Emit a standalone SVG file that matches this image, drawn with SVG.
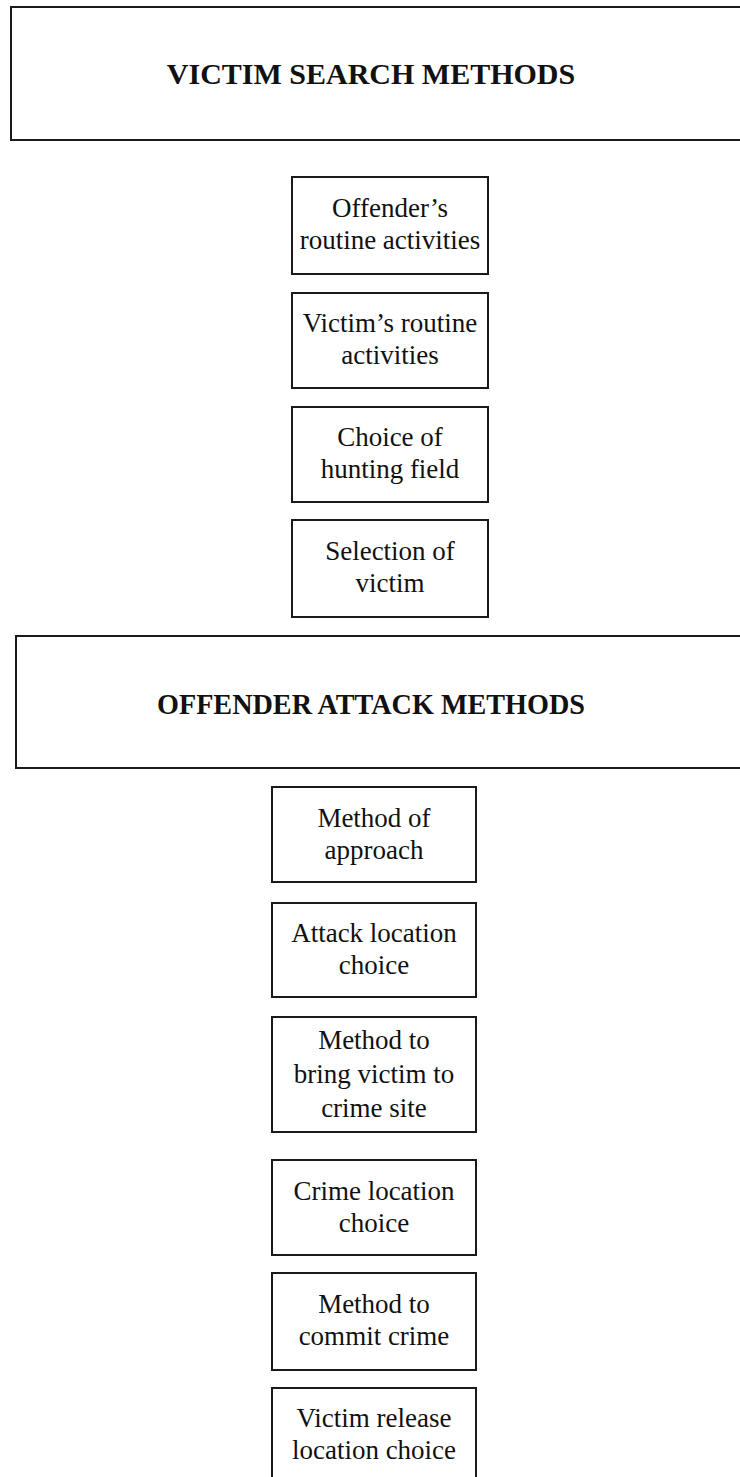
<svg xmlns="http://www.w3.org/2000/svg" width="740" height="1477" viewBox="0 0 740 1477">
<style>
.box{fill:#fff;stroke:#1a1a1a;stroke-width:2}
.hd{font-family:"Liberation Serif","Times New Roman",serif;font-weight:bold;font-size:30px;fill:#111;text-anchor:middle}
.t{font-family:"Liberation Serif","Times New Roman",serif;font-size:27px;fill:#111;text-anchor:middle}
</style>
<rect width="740" height="1477" fill="#fff"/>
<g id="victim-search-methods">
<rect class="box" x="11" y="7" width="740" height="133"/>
<text class="hd" x="371" y="84">VICTIM SEARCH METHODS</text>
</g>
<g id="offenders-routine">
<rect class="box" x="292" y="177" width="196" height="97"/>
<text class="t" x="390" y="217">Offender’s</text>
<text class="t" x="390" y="249">routine activities</text>
</g>
<g id="victims-routine">
<rect class="box" x="292" y="293" width="196" height="95"/>
<text class="t" x="390" y="332">Victim’s routine</text>
<text class="t" x="390" y="364">activities</text>
</g>
<g id="hunting-field">
<rect class="box" x="292" y="407" width="196" height="95"/>
<text class="t" x="390" y="446">Choice of</text>
<text class="t" x="390" y="478">hunting field</text>
</g>
<g id="selection-victim">
<rect class="box" x="292" y="520" width="196" height="97"/>
<text class="t" x="390" y="560">Selection of</text>
<text class="t" x="390" y="592">victim</text>
</g>
<g id="offender-attack-methods">
<rect class="box" x="16" y="636" width="740" height="132"/>
<text class="hd" x="371" y="714" textLength="428" lengthAdjust="spacingAndGlyphs">OFFENDER ATTACK METHODS</text>
</g>
<g id="method-approach">
<rect class="box" x="272" y="787" width="204" height="95"/>
<text class="t" x="374" y="827">Method of</text>
<text class="t" x="374" y="859">approach</text>
</g>
<g id="attack-location">
<rect class="box" x="272" y="903" width="204" height="94"/>
<text class="t" x="374" y="942">Attack location</text>
<text class="t" x="374" y="974">choice</text>
</g>
<g id="bring-victim">
<rect class="box" x="272" y="1017" width="204" height="115"/>
<text class="t" x="374" y="1049">Method to</text>
<text class="t" x="374" y="1083">bring victim to</text>
<text class="t" x="374" y="1117">crime site</text>
</g>
<g id="crime-location">
<rect class="box" x="272" y="1160" width="204" height="95"/>
<text class="t" x="374" y="1200">Crime location</text>
<text class="t" x="374" y="1232">choice</text>
</g>
<g id="commit-crime">
<rect class="box" x="272" y="1273" width="204" height="97"/>
<text class="t" x="374" y="1313">Method to</text>
<text class="t" x="374" y="1345">commit crime</text>
</g>
<g id="release-location">
<rect class="box" x="272" y="1388" width="204" height="97"/>
<text class="t" x="374" y="1427">Victim release</text>
<text class="t" x="374" y="1459">location choice</text>
</g>
<g id="connectors"></g>
</svg>
